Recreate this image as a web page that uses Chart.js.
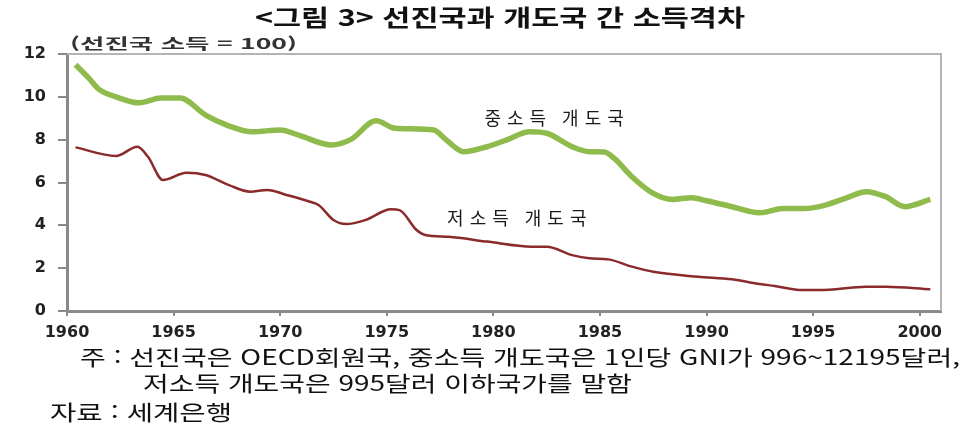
<!DOCTYPE html>
<html lang="ko">
<head>
<meta charset="utf-8">
<script src="https://cdn.jsdelivr.net/npm/chart.js@4"></script>
<style>
  body { margin: 0; background: #fff; width: 968px; height: 430px; overflow: hidden; position: relative; }
  canvas { position: absolute; left: 0; top: 0; }
  .txt { position: absolute; white-space: nowrap; line-height: 1; transform-origin: 0 50%; color: #111;
         font-family: "Noto Sans CJK KR", "Noto Sans", sans-serif; display: inline-block; }
</style>
</head>
<body>
<canvas id="chart" width="968" height="430"></canvas>
<div class="txt" id="title" style="font-size:23px;font-weight:700;top:5px" data-cx="500" data-w="490">&lt;그림 3&gt; 선진국과 개도국 간 소득격차</div>
<div class="txt" id="sub" style="font-size:15px;font-weight:700;top:35px;left:70px;color:#333" data-w="227">(선진국 소득 = 100)</div>
<div class="txt" style="font-size:21px;top:346px;left:80px" data-w="880">주 : 선진국은 OECD회원국, 중소득 개도국은 1인당 GNI가 996~12195달러,</div>
<div class="txt" style="font-size:21px;top:372px;left:143px" data-w="489">저소득 개도국은 995달러 이하국가를 말함</div>
<div class="txt" style="font-size:21px;top:401px;left:50px" data-w="182">자료 : 세계은행</div>
<script>
// 중소득 개도국 (선진국 소득 = 100)
const midYears = [1960.4, 1961.0, 1961.5, 1962.3, 1963.4, 1964.4, 1965.3, 1966.5, 1967.5, 1968.7,
  1970.0, 1970.9, 1972.4, 1973.3, 1974.5, 1975.4, 1977.2, 1977.8, 1978.6, 1979.7,
  1980.6, 1981.7, 1982.5, 1983.7, 1984.5, 1985.2, 1985.7, 1986.5, 1987.5, 1988.4,
  1989.3, 1990.0, 1991.2, 1992.5, 1993.6, 1994.6, 1995.4, 1996.5, 1997.5, 1998.4,
  1999.3, 2000.5];
const midValues = [11.5, 10.9, 10.35, 10.0, 9.72, 9.94, 9.94, 9.15, 8.68, 8.37,
  8.45, 8.2, 7.75, 8.0, 8.88, 8.53, 8.45, 7.98, 7.44, 7.67,
  7.98, 8.37, 8.3, 7.67, 7.44, 7.42, 7.1, 6.27, 5.49, 5.21,
  5.29, 5.15, 4.87, 4.59, 4.79, 4.79, 4.9, 5.26, 5.57, 5.34,
  4.87, 5.21];

// 저소득 개도국
const lowYears = [1960.4, 1962.3, 1963.3, 1963.8, 1964.5, 1965.6, 1966.5, 1967.6, 1968.6, 1969.4,
  1970.3, 1971.4, 1971.8, 1972.5, 1973.1, 1974.0, 1975.2, 1975.6, 1976.4, 1976.8,
  1977.9, 1979.7, 1981.8, 1982.5, 1983.7, 1984.5, 1985.4, 1986.5, 1987.5, 1989.6,
  1991.2, 1992.5, 1993.2, 1994.5, 1995.3, 1997.5, 1998.4, 2000.5];
const lowValues = [7.64, 7.24, 7.67, 7.2, 6.12, 6.46, 6.35, 5.88, 5.57, 5.65,
  5.42, 5.1, 4.95, 4.25, 4.06, 4.25, 4.75, 4.71, 3.78, 3.55,
  3.47, 3.24, 3.0, 3.0, 2.61, 2.46, 2.41, 2.07, 1.83, 1.6,
  1.48, 1.26, 1.17, 0.98, 0.98, 1.13, 1.13, 1.01];

const xTicks = [1960, 1965, 1970, 1975, 1980, 1985, 1990, 1995, 2000];
const yTicks = [0, 2, 4, 6, 8, 10, 12];

// series labels, placed in data units
const seriesLabels = [
  { text: '중소득 개도국', x: 1982.85, y: 9.0 },
  { text: '저소득 개도국', x: 1981.1, y: 4.35 }
];

const frame = {
  id: 'frame',
  afterDatasetsDraw(chart) {
    const { ctx, chartArea: a, scales } = chart;
    ctx.save();
    ctx.strokeStyle = '#b4b4b4';
    ctx.lineWidth = 2;
    ctx.beginPath();
    ctx.moveTo(a.left, a.top);
    ctx.lineTo(a.right, a.top);
    ctx.lineTo(a.right, a.bottom);
    ctx.stroke();
    ctx.fillStyle = '#1a1a1a';
    ctx.font = '18px "Noto Sans CJK KR"';
    ctx.letterSpacing = '6px';
    ctx.textAlign = 'center';
    ctx.textBaseline = 'middle';
    seriesLabels.forEach(l => {
      ctx.fillText(l.text, scales.x.getPixelForValue(l.x) + 3, scales.y.getPixelForValue(l.y));
    });
    ctx.restore();
  }
};

new Chart(document.getElementById('chart'), {
  type: 'line',
  data: {
    datasets: [
      { label: '중소득 개도국', data: midYears.map((x, i) => ({ x, y: midValues[i] })),
        borderColor: '#8fbb4c', borderWidth: 5.5, pointRadius: 0, cubicInterpolationMode: 'monotone' },
      { label: '저소득 개도국', data: lowYears.map((x, i) => ({ x, y: lowValues[i] })),
        borderColor: '#8a2a2a', borderWidth: 2.5, pointRadius: 0, cubicInterpolationMode: 'monotone' }
    ]
  },
  options: {
    responsive: false,
    animation: false,
    layout: { padding: { top: 54, right: 27, left: 0, bottom: 0 } },
    plugins: { legend: { display: false }, tooltip: { enabled: false } },
    scales: {
      x: {
        type: 'linear', min: 1960, max: 2001,
        afterFit(s) { s.height = 119; },
        afterBuildTicks(s) { s.ticks = xTicks.map(v => ({ value: v })); },
        grid: { drawOnChartArea: false, tickLength: 5, color: '#8a8a8a', lineWidth: 2 },
        border: { color: '#8a8a8a', width: 3 },
        ticks: { padding: 7, color: '#222', font: { family: 'DejaVu Sans', size: 16, weight: 'bold' },
                 maxRotation: 0, callback: v => String(v) }
      },
      y: {
        min: 0, max: 12,
        afterFit(s) { s.width = 67; },
        afterBuildTicks(s) { s.ticks = yTicks.map(v => ({ value: v })); },
        grid: { drawOnChartArea: false, tickLength: 9, color: '#8a8a8a', lineWidth: 2 },
        border: { color: '#8a8a8a', width: 3 },
        ticks: { padding: 12, color: '#222', font: { family: 'DejaVu Sans', size: 16, weight: 'bold' } }
      }
    }
  },
  plugins: [frame]
});

// stretch the text blocks to the widths seen in the figure
document.querySelectorAll('.txt').forEach(el => {
  const w = el.getBoundingClientRect().width;
  const target = +el.dataset.w;
  el.style.transform = `scaleX(${target / w})`;
  if (el.dataset.cx) el.style.left = (el.dataset.cx - target / 2) + 'px';
});
</script>
</body>
</html>
